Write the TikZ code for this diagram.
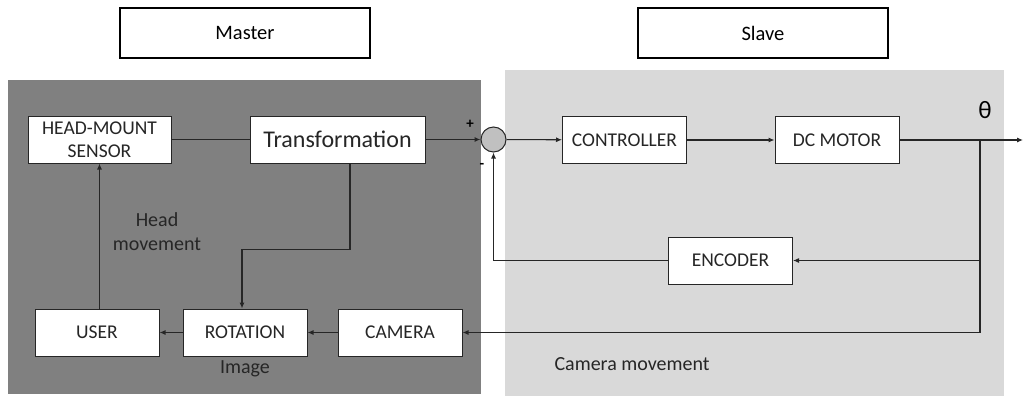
\documentclass[tikz,border=0pt]{standalone}
\usepackage{fontspec}
\setmainfont{Carlito}
\usetikzlibrary{arrows.meta,positioning}
\definecolor{masterbg}{HTML}{808080}
\definecolor{slavebg}{HTML}{D9D9D9}
\definecolor{sumfill}{HTML}{C0C0C0}
\definecolor{wire}{HTML}{262626}
\tikzset{
  block/.style={draw=black!85, fill=white, line width=1pt, minimum width=124pt, minimum height=47pt, inner sep=1pt, align=center, font=\fontsize{19.5}{23}\selectfont, text=black!85},
  titlebox/.style={draw=black, fill=white, line width=2.2pt, minimum width=250pt, minimum height=50pt, font=\fontsize{20.5}{22}\selectfont},
  wireline/.style={draw=wire, line width=1.1pt},
  sig/.style={wireline, -{Latex[length=6pt,width=5pt]}},
  lbl/.style={font=\fontsize{20}{24}\selectfont, text=black!85, align=center}
}
\begin{document}
\begin{tikzpicture}[x=1pt,y=-1pt]
\useasboundingbox (0,0) rectangle (1026,396);
\fill[masterbg] (8,80) rectangle (481,394);
\fill[slavebg] (505,70) rectangle (1004,396);
\node[titlebox] (master) at (245,33) {Master};
\node[titlebox] (slave) at (763,33) {Slave};
\node[block, minimum width=143pt] (sensor) at (99.5,139.5) {HEAD-MOUNT\\SENSOR};
\node[block, minimum width=175pt, font=\fontsize{24}{26}\selectfont] (trans) at (337.5,139.5) {Transformation};
\node[draw=wire, fill=sumfill, line width=1pt, circle, minimum size=25pt, inner sep=0pt] (sum) at (493.5,139.5) {};
\node[block] (ctrl) at (624.5,140) {CONTROLLER};
\node[block] (motor) at (837,140) {DC MOTOR};
\node[block] (enc) at (730.5,260.5) {ENCODER};
\node[block] (cam) at (400,332.5) {CAMERA};
\node[block] (rot) at (245,332.5) {ROTATION};
\node[block] (user) at (97,332.5) {USER};
\coordinate (br) at (980,140);
\coordinate (out) at (1023,140);
\draw[wireline] (sensor) -- (trans);
\draw[sig] (trans) -- (sum);
\draw[sig] (sum) -- (ctrl);
\draw[sig] (ctrl) -- (motor);
\draw[sig] (motor) -- (out);
\draw[sig] (br) |- (enc.east);
\draw[sig] (enc.west) -| (sum.south);
\draw[sig] (br) |- (cam.east);
\draw[sig] (cam) -- (rot);
\draw[sig] (rot) -- (user);
\draw[sig] (sensor.south |- user.north) -- (sensor.south);
\draw[sig] ([xshift=12.5pt]trans.south) |- ++(0,86) -| ([xshift=-3pt]rot.north);
\node[font=\bfseries\fontsize{15}{16}\selectfont] (plus) at (470,124) {+};
\node[font=\bfseries\fontsize{15}{16}\selectfont] (minus) at (482,166) {-};
\node[font=\fontsize{25}{27}\selectfont] (theta) at (985,110) {θ};
\node[lbl] (headmv) at (157,232) {Head\\movement};
\node[lbl] (image) at (245,369) {Image};
\node[lbl, anchor=west] (cammv) at (551,364) {Camera movement};
\end{tikzpicture}
\end{document}
